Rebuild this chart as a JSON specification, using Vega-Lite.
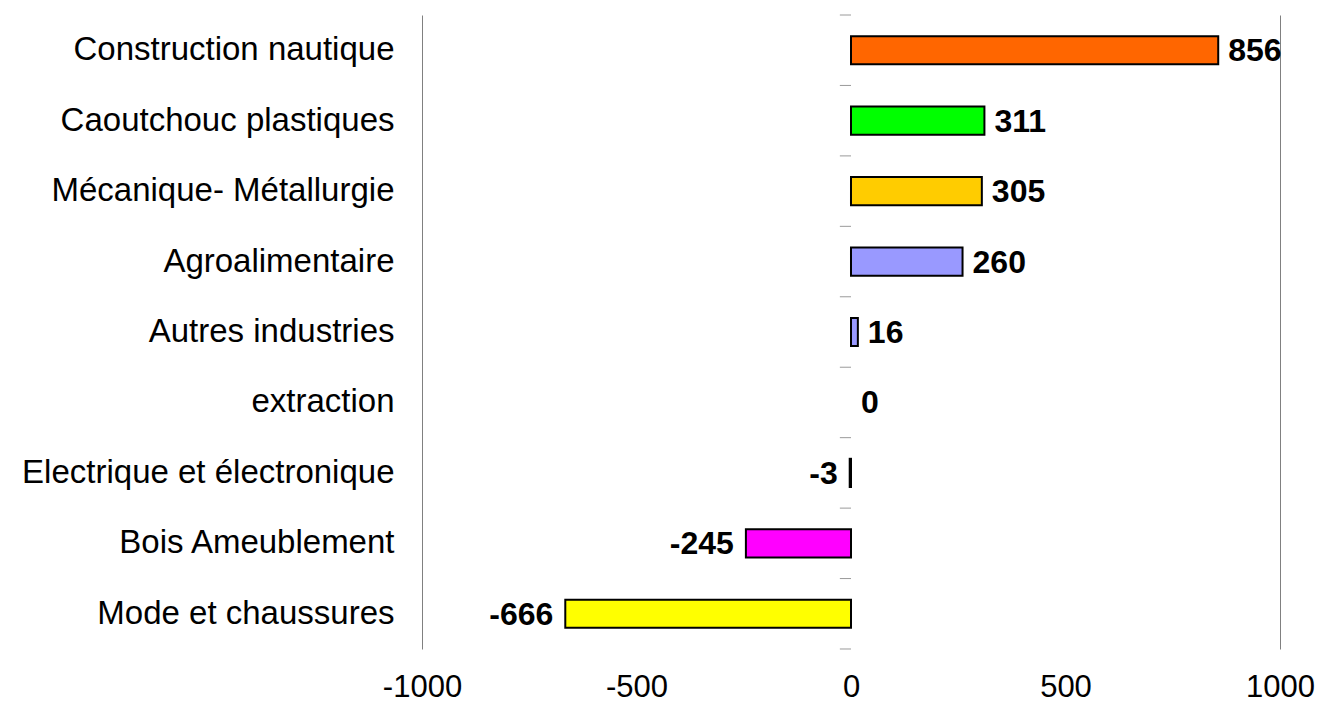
{
  "$schema": "https://vega.github.io/schema/vega-lite/v6.json",
  "width": 858,
  "height": 634,
  "autosize": "none",
  "padding": {"left": 422, "top": 15, "right": 42, "bottom": 53},
  "background": "white",
  "config": {"view": {"stroke": null}, "font": "Liberation Sans"},
  "data": {"values": [
    {"cat": "Construction nautique", "v": 856, "color": "#FF6600"},
    {"cat": "Caoutchouc plastiques", "v": 311, "color": "#00FF00"},
    {"cat": "Mécanique- Métallurgie", "v": 305, "color": "#FFCC00"},
    {"cat": "Agroalimentaire", "v": 260, "color": "#9999FF"},
    {"cat": "Autres industries", "v": 16, "color": "#9999FF"},
    {"cat": "extraction", "v": 0, "color": "#FFFFFF"},
    {"cat": "Electrique et électronique", "v": -3, "color": "#000000"},
    {"cat": "Bois Ameublement", "v": -245, "color": "#FF00FF"},
    {"cat": "Mode et chaussures", "v": -666, "color": "#FFFF00"}
  ]},
  "encoding": {
    "y": {"field": "cat", "type": "nominal", "sort": null,
      "scale": {"paddingInner": 0.6, "paddingOuter": 0.3,
        "domain": ["Construction nautique", "Caoutchouc plastiques", "Mécanique- Métallurgie", "Agroalimentaire", "Autres industries", "extraction", "Electrique et électronique", "Bois Ameublement", "Mode et chaussures"]},
      "axis": {"title": null, "domain": false, "ticks": false, "labelFontSize": 33, "labelColor": "black", "labelPadding": 28, "labelLimit": 500}},
    "x": {"field": "v", "type": "quantitative",
      "scale": {"domain": [-1000, 1000], "nice": false},
      "axis": {"title": null, "values": [-1000, -500, 0, 500, 1000], "labelExpr": "toString(datum.value)", "domain": false, "ticks": false, "labelFontSize": 31, "labelColor": "black", "labelPadding": 23, "labelFlush": false, "labelBound": false,
        "grid": true, "gridColor": "#808080", "gridWidth": 1,
        "gridOpacity": {"condition": {"test": "abs(datum.value) == 1000", "value": 1}, "value": 0}}}
  },
  "layer": [
    {"mark": {"type": "rule", "color": "#9a9a9a", "strokeWidth": 1, "yOffset": -21.13},
      "encoding": {
        "x": {"datum": -26, "type": "quantitative"},
        "x2": {"datum": 0},
        "y": {"field": "cat", "type": "nominal", "bandPosition": 0}}},
    {"mark": {"type": "rule", "color": "#9a9a9a", "strokeWidth": 1, "yOffset": 21.13},
      "transform": [{"filter": "datum.cat == 'Mode et chaussures'"}],
      "encoding": {
        "x": {"datum": -26, "type": "quantitative"},
        "x2": {"datum": 0},
        "y": {"field": "cat", "type": "nominal", "bandPosition": 1}}},
    {"mark": {"type": "bar", "strokeWidth": 2},
      "encoding": {
        "color": {"field": "color", "type": "nominal", "scale": null},
        "stroke": {"condition": {"test": "datum.v == 0", "value": null}, "value": "black"}}},
    {"mark": {"type": "text", "fontWeight": "bold", "fontSize": 32, "baseline": "middle", "align": "left", "dx": 10, "dy": 1, "color": "black"},
      "transform": [{"filter": "datum.v >= 0"}],
      "encoding": {"text": {"field": "v", "type": "nominal"}}},
    {"mark": {"type": "text", "fontWeight": "bold", "fontSize": 32, "baseline": "middle", "align": "right", "dx": -12, "dy": 1, "color": "black"},
      "transform": [{"filter": "datum.v < 0"}],
      "encoding": {"text": {"field": "v", "type": "nominal"}}}
  ]
}
